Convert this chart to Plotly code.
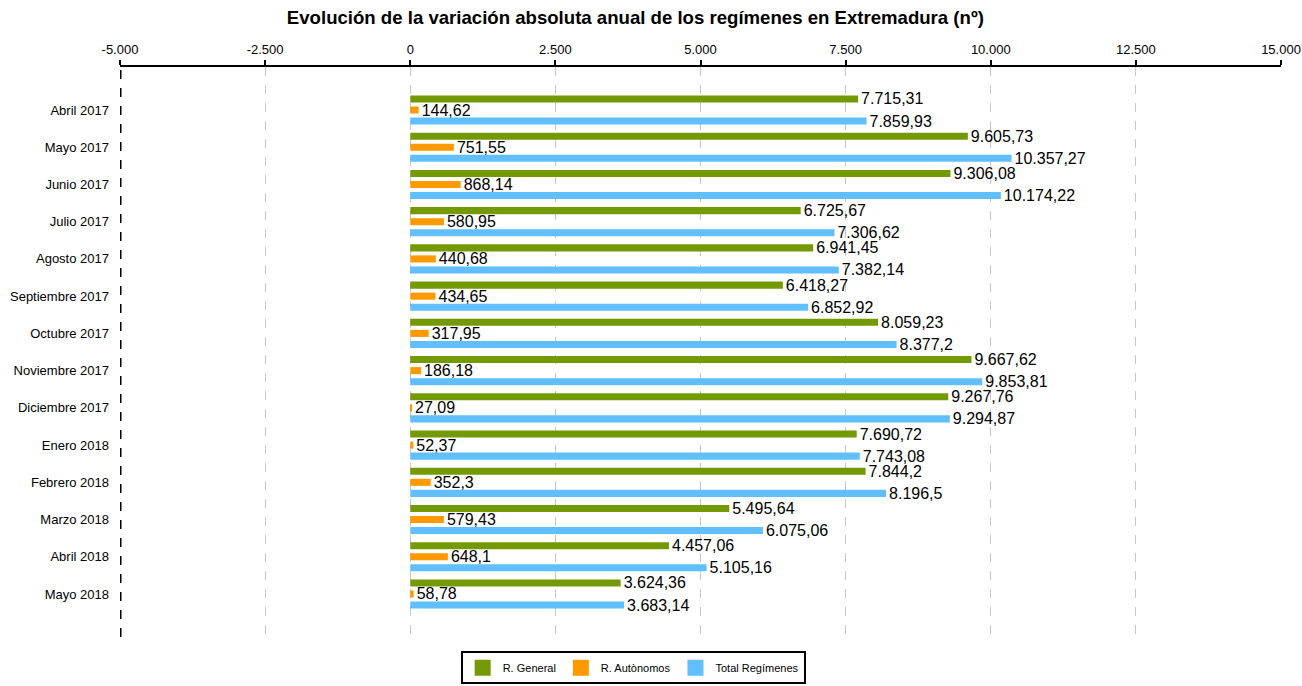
import plotly.graph_objects as go

categories = ["Abril 2017", "Mayo 2017", "Junio 2017", "Julio 2017", "Agosto 2017",
              "Septiembre 2017", "Octubre 2017", "Noviembre 2017", "Diciembre 2017",
              "Enero 2018", "Febrero 2018", "Marzo 2018", "Abril 2018", "Mayo 2018"]
r_general = [7715.31, 9605.73, 9306.08, 6725.67, 6941.45, 6418.27, 8059.23, 9667.62,
             9267.76, 7690.72, 7844.2, 5495.64, 4457.06, 3624.36]
r_autonomos = [144.62, 751.55, 868.14, 580.95, 440.68, 434.65, 317.95, 186.18,
               27.09, 52.37, 352.3, 579.43, 648.1, 58.78]
total = [7859.93, 10357.27, 10174.22, 7306.62, 7382.14, 6852.92, 8377.2, 9853.81,
         9294.87, 7743.08, 8196.5, 6075.06, 5105.16, 3683.14]
tick_vals = [-5000, -2500, 0, 2500, 5000, 7500, 10000, 12500, 15000]
tick_text = ["-5.000", "-2.500", "0", "2.500", "5.000", "7.500", "10.000", "12.500", "15.000"]


def fmt(v):
    s = f"{v:,.2f}".rstrip("0").rstrip(".")
    return s.replace(",", "X").replace(".", ",").replace("X", ".")


FONT = "Liberation Sans, Arial, sans-serif"
series = [("R. General", r_general, "#739a05"),
          ("R. Autònomos", r_autonomos, "#ff9900"),
          ("Total Regímenes", total, "#61bfff")]

fig = go.Figure()
for name, vals, col in series:
    fig.add_trace(go.Bar(
        y=categories, x=vals, name=name, orientation="h",
        marker=dict(color=col, line=dict(width=0)),
        text=[fmt(v) for v in vals], textposition="outside",
        textfont=dict(size=16, color="#000", family=FONT),
        constraintext="none", cliponaxis=False, showlegend=False,
    ))
# legend entries (large square swatches)
for name, vals, col in series:
    fig.add_trace(go.Scatter(
        x=[None], y=[None], mode="markers", name=name,
        marker=dict(symbol="square", size=22, color=col),
    ))

fig.add_shape(type="line", xref="x", yref="paper", x0=-5000, x1=-5000, y0=0, y1=1,
              line=dict(color="black", width=3, dash="dash"))

fig.update_layout(
    width=1302, height=686,
    margin=dict(l=120, r=21, t=67, b=49, autoexpand=False),
    paper_bgcolor="white", plot_bgcolor="white",
    font=dict(family=FONT, size=12, color="#000"),
    title=dict(text="<b>Evolución de la variación absoluta anual de los regímenes en Extremadura (nº)</b>",
               x=0.488, xanchor="center", y=0.974, yanchor="middle",
               font=dict(size=18.6, family=FONT, color="#000")),
    barmode="group", bargap=0.11, bargroupgap=0.36,
    xaxis=dict(side="top", range=[-5000, 15000], tickvals=tick_vals, ticktext=tick_text,
               showgrid=True, gridcolor="#c8c8c8", griddash="dash", gridwidth=1,
               zeroline=False, showline=True, linecolor="black", linewidth=2,
               ticks="outside", ticklen=5, tickwidth=2, tickcolor="black",
               ticklabelstandoff=1, automargin=False,
               tickfont=dict(size=13, family=FONT, color="#000")),
    yaxis=dict(type="category", categoryorder="array", categoryarray=categories,
               range=[14.155, -1.155], showgrid=False, zeroline=False,
               showline=False, ticks="", ticklabelstandoff=10, automargin=False,
               tickfont=dict(size=13, family=FONT, color="#000")),
    legend=dict(orientation="h", x=0.442, xanchor="center", y=-0.025, yanchor="top",
                bordercolor="black", borderwidth=2, bgcolor="white",
                font=dict(size=11, family=FONT, color="#000"),
                traceorder="normal", itemsizing="trace"),
)

fig.write_html("out.html", config={"displayModeBar": False},
               post_script="document.body.style.margin='0px';")
